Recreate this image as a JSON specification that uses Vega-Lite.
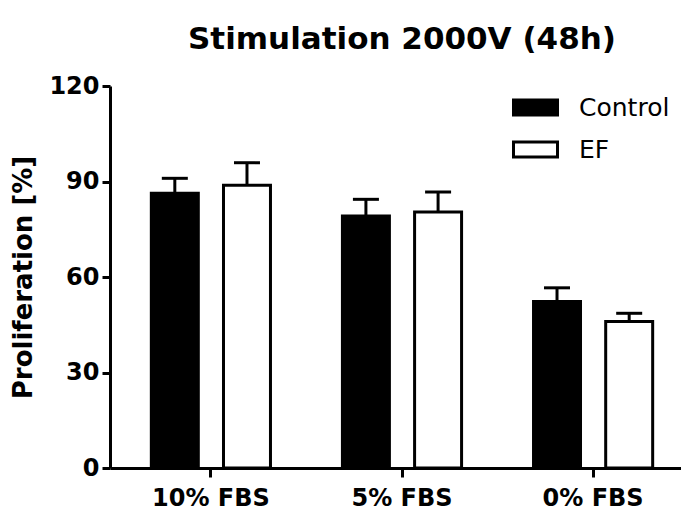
{
  "$schema": "https://vega.github.io/schema/vega-lite/v6.json",
  "autosize": "none",
  "width": 584,
  "height": 382,
  "padding": {"left": 110, "top": 86, "right": 0, "bottom": 44},
  "background": "white",
  "title": {
    "text": "Stimulation 2000V (48h)",
    "font": "DejaVu Sans",
    "fontSize": 31,
    "fontWeight": "bold",
    "color": "black",
    "anchor": "middle",
    "offset": 18
  },
  "config": {
    "view": {"stroke": null},
    "axis": {
      "domainColor": "black",
      "domainWidth": 3,
      "tickColor": "black",
      "tickWidth": 3,
      "labelColor": "black",
      "titleColor": "black",
      "labelFont": "DejaVu Sans",
      "labelFontWeight": "bold",
      "labelFontSize": 24,
      "titleFont": "DejaVu Sans",
      "titleFontWeight": "bold",
      "titleFontSize": 26,
      "grid": false
    }
  },
  "data": {
    "values": [
      {"group": "10% FBS", "treatment": "Control", "mean": 86.3, "upper": 91.0},
      {"group": "10% FBS", "treatment": "EF", "mean": 88.8, "upper": 95.9},
      {"group": "5% FBS", "treatment": "Control", "mean": 79.2, "upper": 84.4},
      {"group": "5% FBS", "treatment": "EF", "mean": 80.4, "upper": 86.7},
      {"group": "0% FBS", "treatment": "Control", "mean": 52.3, "upper": 56.6},
      {"group": "0% FBS", "treatment": "EF", "mean": 46.0, "upper": 48.6}
    ]
  },
  "encoding": {
    "x": {
      "field": "group",
      "type": "nominal",
      "sort": ["10% FBS", "5% FBS", "0% FBS"],
      "scale": {"paddingInner": 0, "paddingOuter": 0.028},
      "axis": {"title": null, "labelAngle": 0, "tickSize": 9, "labelPadding": 9}
    },
    "xOffset": {
      "field": "treatment",
      "type": "nominal",
      "sort": ["Control", "EF"],
      "scale": {"paddingInner": 0.349, "paddingOuter": 0.4985}
    }
  },
  "layer": [
    {
      "mark": {"type": "rule", "color": "black", "strokeWidth": 3},
      "encoding": {
        "y": {"field": "mean", "type": "quantitative"},
        "y2": {"field": "upper"}
      }
    },
    {
      "mark": {"type": "tick", "color": "black", "thickness": 3, "size": 26, "orient": "horizontal", "opacity": 1},
      "encoding": {
        "y": {"field": "upper", "type": "quantitative"}
      }
    },
    {
      "mark": {"type": "bar", "stroke": "black", "strokeWidth": 3, "opacity": 1},
      "encoding": {
        "y": {
          "field": "mean",
          "type": "quantitative",
          "scale": {"domain": [0, 120], "nice": false},
          "axis": {
            "title": "Proliferation [%]",
            "values": [0, 30, 60, 90, 120],
            "tickSize": 8,
            "labelPadding": 3,
            "titlePadding": 12
          }
        },
        "fill": {
          "field": "treatment",
          "type": "nominal",
          "sort": ["Control", "EF"],
          "scale": {"domain": ["Control", "EF"], "range": ["black", "white"]},
          "legend": {
            "title": null,
            "orient": "none",
            "legendX": 402,
            "legendY": -2,
            "padding": 0,
            "symbolType": "M-1,-0.34H1V0.34H-1Z",
            "symbolSize": 1936,
            "symbolStrokeColor": "black",
            "symbolStrokeWidth": 3,
            "labelFont": "DejaVu Sans",
            "labelFontSize": 25,
            "labelColor": "black",
            "labelOffset": 20,
            "rowPadding": 5
          }
        }
      }
    }
  ]
}
